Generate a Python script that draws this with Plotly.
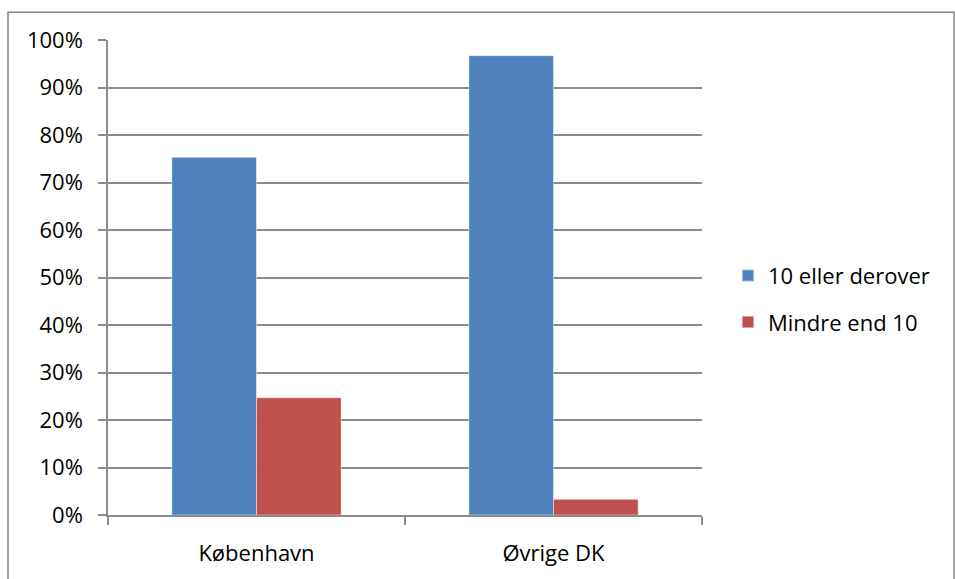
import plotly.graph_objects as go

# Andel fordelt på gruppe og område
categories = ["København", "Øvrige DK"]
series_names = ["10 eller derover", "Mindre end 10"]
share_10_plus = [0.753, 0.967]
share_under_10 = [0.247, 0.033]
y_ticks = [0, 0.1, 0.2, 0.3, 0.4, 0.5, 0.6, 0.7, 0.8, 0.9, 1.0]
y_tick_labels = ["0%", "10%", "20%", "30%", "40%", "50%", "60%", "70%", "80%", "90%", "100%"]

colors = ["#4F81BD", "#C0504D"]
FONT = "Open Sans"
FS = 22
W, H = 955, 579
L, R, T, B = 108, 253, 40, 61
plot_w = W - L - R
plot_h = H - T - B

fig = go.Figure()
for i, (name, vals) in enumerate(zip(series_names, [share_10_plus, share_under_10])):
    fig.add_trace(go.Bar(
        x=categories, y=vals, name=name,
        marker=dict(color=colors[i], line=dict(color="rgba(255,255,255,0.45)", width=1)),
        legendgroup=f"g{i}",
    ))

# outer chart border
px = lambda x: (x - L) / plot_w
py = lambda y: (H - B - y) / plot_h
fig.add_shape(type="rect", xref="paper", yref="paper",
              x0=px(8), x1=px(954), y0=py(590), y1=py(12),
              line=dict(color="#868686", width=1.5), fillcolor="rgba(0,0,0,0)", layer="below")

fig.update_layout(
    width=W, height=H,
    margin=dict(l=L, r=R, t=T, b=B),
    paper_bgcolor="white", plot_bgcolor="white",
    barmode="group", bargap=0.43, bargroupgap=0,
    font=dict(family=FONT, size=FS, color="black"),
    legend=dict(x=px(728), y=py(256), xanchor="left", yanchor="top",
                traceorder="grouped", tracegroupgap=15,
                font=dict(family=FONT, size=FS, color="black"),
                itemsizing="constant", bgcolor="rgba(0,0,0,0)"),
    showlegend=True,
)
fig.update_yaxes(
    range=[0, 1.0], tickvals=y_ticks, ticktext=y_tick_labels,
    tickfont=dict(family=FONT, size=FS, color="black"),
    showgrid=True, gridcolor="#8C8C8C", gridwidth=1.5,
    showline=True, linecolor="#8C8C8C", linewidth=1.5,
    ticks="outside", ticklen=8, tickcolor="#8C8C8C", tickwidth=1.5,
    ticklabelstandoff=11, zeroline=False,
)
fig.update_xaxes(
    tickfont=dict(family=FONT, size=FS, color="black"),
    showline=True, linecolor="#8C8C8C", linewidth=1.5,
    ticks="outside", ticklen=8, tickcolor="#8C8C8C", tickwidth=1.5,
    tickson="boundaries", ticklabelstandoff=18, showgrid=False,
)

fig.write_html("out.html")
